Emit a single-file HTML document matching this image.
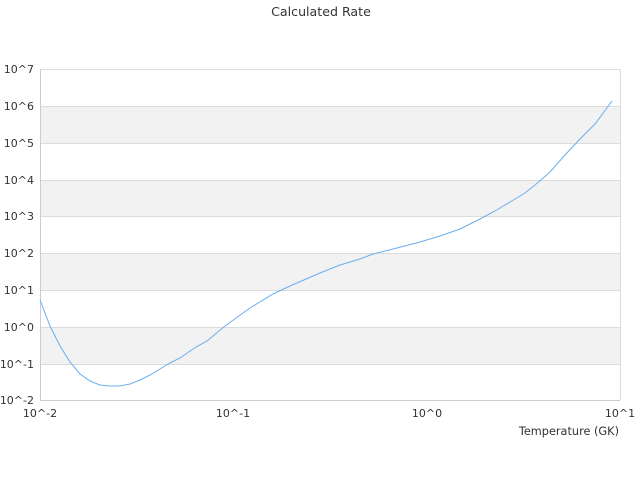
<!DOCTYPE html>
<html><head><style>
body{margin:0;background:#fff;}
svg text{font-family:"DejaVu Sans","Liberation Sans",sans-serif;fill:#333;}
</style></head><body>
<svg width="640" height="480" xmlns="http://www.w3.org/2000/svg">
<rect width="640" height="480" fill="#fff"/>
<text x="321" y="16" font-size="12.6" text-anchor="middle">Calculated Rate</text>
<g fill="#f2f2f2">
<rect x="40" y="106" width="580" height="37"/>
<rect x="40" y="180" width="580" height="36"/>
<rect x="40" y="253" width="580" height="37"/>
<rect x="40" y="327" width="580" height="37"/>
</g>
<g stroke="#dcdcdc" stroke-width="1">
<line x1="40" y1="69.5" x2="620" y2="69.5"/>
<line x1="40" y1="106.5" x2="620" y2="106.5"/>
<line x1="40" y1="143.5" x2="620" y2="143.5"/>
<line x1="40" y1="180.5" x2="620" y2="180.5"/>
<line x1="40" y1="216.5" x2="620" y2="216.5"/>
<line x1="40" y1="253.5" x2="620" y2="253.5"/>
<line x1="40" y1="290.5" x2="620" y2="290.5"/>
<line x1="40" y1="327.5" x2="620" y2="327.5"/>
<line x1="40" y1="364.5" x2="620" y2="364.5"/>
<line x1="620.5" y1="69" x2="620.5" y2="400"/>
</g>
<line x1="40.5" y1="69" x2="40.5" y2="400" stroke="#ccc"/>
<line x1="40" y1="400.5" x2="620" y2="400.5" stroke="#ccc"/>
<g font-size="11" text-anchor="end">
<text x="34" y="73">10^7</text>
<text x="34" y="110">10^6</text>
<text x="34" y="147">10^5</text>
<text x="34" y="184">10^4</text>
<text x="34" y="220">10^3</text>
<text x="34" y="257">10^2</text>
<text x="34" y="294">10^1</text>
<text x="34" y="331">10^0</text>
<text x="34" y="368">10^-1</text>
<text x="34" y="404">10^-2</text>
</g>
<g font-size="11" text-anchor="middle">
<text x="40" y="417">10^-2</text>
<text x="233" y="417">10^-1</text>
<text x="427" y="417">10^0</text>
<text x="620" y="417">10^1</text>
</g>
<text x="619" y="435" font-size="11.3" text-anchor="end">Temperature (GK)</text>
<polyline fill="none" stroke="#6aaef0" stroke-width="1" points="40,300 50,326 60,346 70,362 80,374 90,381 100,385 110,386 120,386 130,384 140,380 150,375 160,369 170,363 180,358 196,347 207,341 225,326 250,308 273,294 290,286 320,273 340,265 360,259 373,254 393,249 420,242 440,236 460,229 480,219 495,211 510,202 525,193 535,185 550,172 565,155 580,139 595,124 612,101"/>
</svg>
</body></html>
